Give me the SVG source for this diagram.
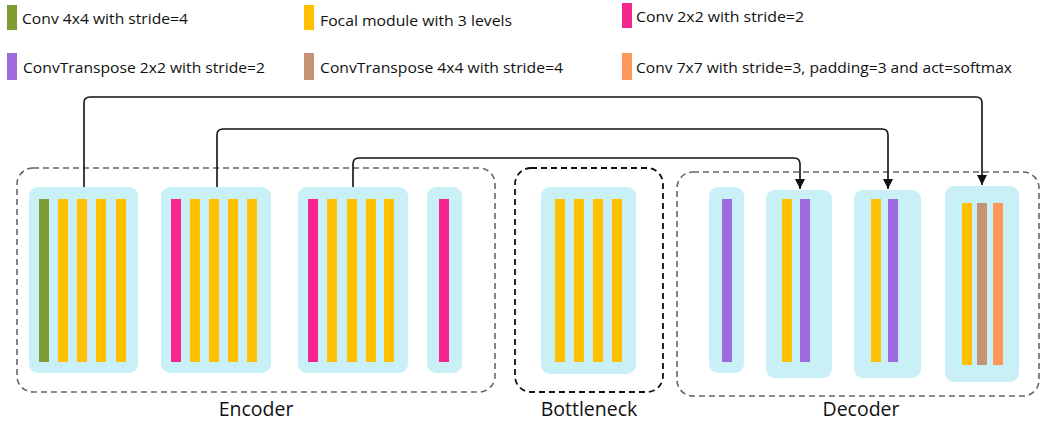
<svg xmlns="http://www.w3.org/2000/svg" width="1042" height="423" viewBox="0 0 1042 423">
<defs>
<style>
.t{font-family:"Open Sans","Liberation Sans",sans-serif;font-size:15px;fill:#111}
.lbl{font-family:"Open Sans","Liberation Sans",sans-serif;font-size:19.5px;fill:#111;text-anchor:middle}
.blk{fill:#C8F0F6}
.g{fill:#809C34}.y{fill:#FFC000}.p{fill:#F72590}.v{fill:#9D6BDD}.b{fill:#C59473}.o{fill:#FE985B}
.grp{fill:none;stroke:#666;stroke-width:1.6;stroke-dasharray:6 4}
.grpk{fill:none;stroke:#111;stroke-width:1.8;stroke-dasharray:6 4}
.c{fill:none;stroke:#111;stroke-width:1.6}
</style>
<marker id="ah" viewBox="0 0 10 10" refX="10" refY="5" markerWidth="10" markerHeight="10" markerUnits="userSpaceOnUse" orient="auto">
<path d="M0,0 L10,5 L0,10 z" fill="#111"/>
</marker>
</defs>
<rect width="1042" height="423" fill="#fff"/>

<g id="legend">
<rect class="g" x="7" y="5" width="10" height="25"/>
<text class="t" x="22" y="24" textLength="166" lengthAdjust="spacingAndGlyphs">Conv 4x4 with stride=4</text>
<rect class="y" x="304" y="5" width="10" height="25"/>
<text class="t" x="320" y="26" textLength="192" lengthAdjust="spacingAndGlyphs">Focal module with 3 levels</text>
<rect class="p" x="622" y="3" width="10" height="25"/>
<text class="t" x="636" y="22" textLength="168" lengthAdjust="spacingAndGlyphs">Conv 2x2 with stride=2</text>
<rect class="v" x="7" y="53" width="10" height="27"/>
<text class="t" x="23" y="73" textLength="242" lengthAdjust="spacingAndGlyphs">ConvTranspose 2x2 with stride=2</text>
<rect class="b" x="304" y="53" width="10" height="27"/>
<text class="t" x="320" y="73" textLength="243" lengthAdjust="spacingAndGlyphs">ConvTranspose 4x4 with stride=4</text>
<rect class="o" x="622" y="53" width="10" height="27"/>
<text class="t" x="636" y="73" textLength="376" lengthAdjust="spacingAndGlyphs">Conv 7x7 with stride=3, padding=3 and act=softmax</text>
</g>

<g id="encoder">
<rect class="grp" x="17" y="168" width="478" height="224" rx="16"/>
<text class="lbl" x="256" y="416">Encoder</text>
</g>
<g id="enc1">
<rect class="blk" x="29" y="187" width="109" height="186" rx="9"/>
<rect class="g" x="39" y="199" width="10" height="163"/>
<rect class="y" x="58" y="199" width="10" height="163"/>
<rect class="y" x="77" y="199" width="10" height="163"/>
<rect class="y" x="96" y="199" width="10" height="163"/>
<rect class="y" x="116" y="199" width="10" height="163"/>
</g>
<g id="enc2">
<rect class="blk" x="161" y="187" width="110" height="186" rx="9"/>
<rect class="p" x="171" y="199" width="10" height="163"/>
<rect class="y" x="190" y="199" width="10" height="163"/>
<rect class="y" x="209" y="199" width="10" height="163"/>
<rect class="y" x="228" y="199" width="10" height="163"/>
<rect class="y" x="247" y="199" width="10" height="163"/>
</g>
<g id="enc3">
<rect class="blk" x="298" y="187" width="110" height="186" rx="9"/>
<rect class="p" x="308" y="199" width="10" height="163"/>
<rect class="y" x="327" y="199" width="10" height="163"/>
<rect class="y" x="347" y="199" width="10" height="163"/>
<rect class="y" x="366" y="199" width="10" height="163"/>
<rect class="y" x="384" y="199" width="10" height="163"/>
</g>
<g id="enc4">
<rect class="blk" x="427" y="187" width="35" height="186" rx="9"/>
<rect class="p" x="439" y="199" width="10" height="163"/>
</g>

<g id="bottleneck">
<rect class="grpk" x="515" y="168" width="148" height="224" rx="16"/>
<text class="lbl" x="589" y="416">Bottleneck</text>
</g>
<g id="bott1">
<rect class="blk" x="541" y="187" width="95" height="187" rx="9"/>
<rect class="y" x="555" y="199" width="10" height="163"/>
<rect class="y" x="574" y="199" width="10" height="163"/>
<rect class="y" x="593" y="199" width="10" height="163"/>
<rect class="y" x="612" y="199" width="10" height="163"/>
</g>

<g id="decoder">
<rect class="grp" x="677" y="172" width="362" height="224" rx="16"/>
<text class="lbl" x="861" y="416">Decoder</text>
</g>
<g id="dec1">
<rect class="blk" x="709" y="187" width="35" height="186" rx="9"/>
<rect class="v" x="722" y="199" width="10" height="163"/>
</g>
<g id="dec2">
<rect class="blk" x="766" y="190" width="66" height="188" rx="9"/>
<rect class="y" x="782" y="199" width="10" height="163"/>
<rect class="v" x="800" y="199" width="10" height="163"/>
</g>
<g id="dec3">
<rect class="blk" x="854" y="190" width="67" height="188" rx="9"/>
<rect class="y" x="871" y="199" width="10" height="163"/>
<rect class="v" x="888" y="199" width="10" height="163"/>
</g>
<g id="dec4">
<rect class="blk" x="945" y="186" width="74" height="196" rx="9"/>
<rect class="y" x="962" y="203" width="10" height="162"/>
<rect class="b" x="977" y="203" width="10" height="162"/>
<rect class="o" x="993" y="203" width="10" height="162"/>
</g>

<g id="connectors">
<path class="c" d="M84,187 V103 Q84,97 90,97 H976 Q982,97 982,103 V185" marker-end="url(#ah)"/>
<path class="c" d="M217,187 V135 Q217,129 223,129 H882 Q888,129 888,135 V189" marker-end="url(#ah)"/>
<path class="c" d="M353,187 V164 Q353,158 359,158 H794 Q800,158 800,164 V189" marker-end="url(#ah)"/>
</g>
</svg>
